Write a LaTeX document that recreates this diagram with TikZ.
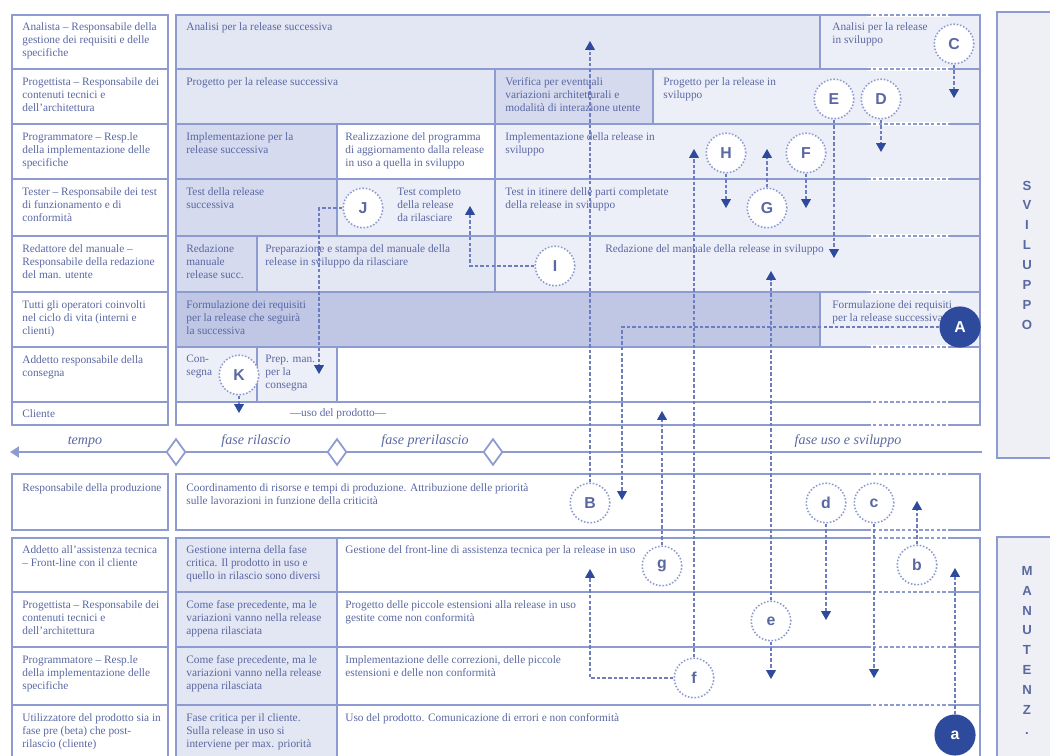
\documentclass[tikz,border=0pt]{standalone}
\usepackage{fontspec}
\setmainfont{Liberation Serif}
\setsansfont{Liberation Sans}
\usetikzlibrary{arrows.meta,shapes.geometric}

\definecolor{rigacol}{HTML}{8E9BD0}
\definecolor{testocol}{HTML}{5A68A2}
\definecolor{lineacol}{HTML}{6E7DBF}
\definecolor{bluscuro}{HTML}{2E4A9C}
\definecolor{fondo0}{HTML}{EDEFF8}
\definecolor{fondo1}{HTML}{E3E6F3}
\definecolor{fondo2}{HTML}{D5DAEE}
\definecolor{fondo3}{HTML}{BFC7E4}
\definecolor{fascia}{HTML}{EEF0F5}

\begin{document}
\begin{tikzpicture}[x=0.02cm, y=-0.02cm,
    cell/.style={draw=rigacol, line width=1.3pt},
    txt/.style={anchor=north west, inner sep=0pt, text=testocol, align=left,
                font=\fontsize{6.45}{7.4}\selectfont},
    fase/.style={anchor=base, inner sep=0pt, text=testocol,
                 font=\fontsize{8}{9}\selectfont\itshape},
    tappa/.style={diamond, draw=rigacol, fill=white, line width=1pt,
                  inner sep=0pt, minimum width=11pt, minimum height=15pt},
    lettera/.style={circle, draw=rigacol, densely dotted, line width=0.9pt, fill=white,
                    minimum size=22.5pt, inner sep=0pt, text=testocol,
                    font=\sffamily\bfseries\fontsize{9}{9}\selectfont},
    piena/.style={lettera, solid, draw=bluscuro, fill=bluscuro, text=white},
    link/.style={draw=lineacol, line width=0.6pt, dash pattern=on 2pt off 1.2pt,
                 -{Triangle[width=5.5pt, length=5pt, color=bluscuro]}},
    banda/.style={draw=rigacol, line width=1.2pt, fill=fascia},
    vert/.style={align=center, text=testocol, inner sep=0pt,
                 font=\sffamily\bfseries\fontsize{7.5}{11.3}\selectfont},
    asse/.style={draw=rigacol, line width=1.6pt, -{Triangle[width=6pt, length=5pt]}}]
  \useasboundingbox (0,0) rectangle (1050,756);

  \draw[banda] (997,12) rectangle (1056,458);
  \draw[banda] (997,537) rectangle (1056,762);
  \node[vert] (svil) at (1027,255) {S\\V\\I\\L\\U\\P\\P\\O};
  \node[vert, anchor=north] (manu) at (1027,566) {M\\A\\N\\U\\T\\E\\N\\Z\\.};

  \draw[cell] (12,15) rectangle (168,69);
  \draw[cell] (12,69) rectangle (168,124);
  \draw[cell] (12,124) rectangle (168,179);
  \draw[cell] (12,179) rectangle (168,236);
  \draw[cell] (12,236) rectangle (168,292);
  \draw[cell] (12,292) rectangle (168,347);
  \draw[cell] (12,347) rectangle (168,402);
  \draw[cell] (12,402) rectangle (168,425);

  \draw[cell, fill=fondo1] (176,15) rectangle (820,69);
  \draw[cell, fill=fondo0] (820,15) rectangle (980,69);
  \draw[cell, fill=fondo1] (176,69) rectangle (495,124);
  \draw[cell, fill=fondo2] (495,69) rectangle (653,124);
  \draw[cell, fill=fondo0] (653,69) rectangle (980,124);
  \draw[cell, fill=fondo2] (176,124) rectangle (337,179);
  \draw[cell, fill=white] (337,124) rectangle (495,179);
  \draw[cell, fill=fondo0] (495,124) rectangle (980,179);
  \draw[cell, fill=fondo2] (176,179) rectangle (337,236);
  \draw[cell, fill=fondo0] (337,179) rectangle (495,236);
  \draw[cell, fill=fondo0] (495,179) rectangle (980,236);
  \draw[cell, fill=fondo2] (176,236) rectangle (257,292);
  \draw[cell, fill=fondo1] (257,236) rectangle (495,292);
  \draw[cell, fill=fondo0] (495,236) rectangle (980,292);
  \draw[cell, fill=fondo3] (176,292) rectangle (820,347);
  \draw[cell, fill=fondo0] (820,292) rectangle (980,347);
  \draw[cell, fill=fondo0] (176,347) rectangle (257,402);
  \draw[cell, fill=fondo0] (257,347) rectangle (337,402);
  \draw[cell] (337,347) rectangle (980,402);
  \draw[cell] (176,402) rectangle (980,425);

  \draw[cell] (12,474) rectangle (168,530);
  \draw[cell] (176,474) rectangle (980,530);
  \draw[cell] (12,538) rectangle (168,592);
  \draw[cell] (12,592) rectangle (168,647);
  \draw[cell] (12,647) rectangle (168,705);
  \draw[cell] (12,705) rectangle (168,764);
  \draw[cell, fill=fondo1] (176,538) rectangle (337,592);
  \draw[cell, fill=fondo1] (176,592) rectangle (337,647);
  \draw[cell, fill=fondo1] (176,647) rectangle (337,705);
  \draw[cell, fill=fondo1] (176,705) rectangle (337,764);
  \draw[cell] (337,538) rectangle (980,592);
  \draw[cell] (337,592) rectangle (980,647);
  \draw[cell] (337,647) rectangle (980,705);
  \draw[cell] (337,705) rectangle (980,764);

  \foreach \yy in {15,69,124,179,236,292,347,402,425,474,530,538,592,647,705}{
    \draw[white, line width=1.8pt] (867,\yy) -- (950,\yy);
    \draw[rigacol, line width=1.3pt, dash pattern=on 2pt off 1.3pt] (867,\yy) -- (950,\yy);
  }

  \coordinate (tfine) at (982,452);
  \coordinate (tinizio) at (10,452);
  \draw[asse] (tfine) -- (tinizio);
  \node[tappa] (d1) at (176,452) {};
  \node[tappa] (d2) at (337,452) {};
  \node[tappa] (d3) at (493,452) {};
  \node[fase] (ftempo) at (85,444) {tempo};
  \node[fase] (frilascio) at (256,444) {fase rilascio};
  \node[fase] (fpre) at (425,444) {fase prerilascio};
  \node[fase] (fuso) at (848,444) {fase uso e sviluppo};

  \node[txt] (ruolo1) at (22,22) {Analista -- Responsabile della\\gestione dei requisiti e delle\\specifiche};
  \node[txt] (ruolo2) at (22,77) {Progettista -- Responsabile dei\\contenuti tecnici e\\dell'architettura};
  \node[txt] (ruolo3) at (22,132) {Programmatore -- Resp.le\\della implementazione delle\\specifiche};
  \node[txt] (ruolo4) at (22,187) {Tester -- Responsabile dei test\\di funzionamento e di\\conformità};
  \node[txt] (ruolo5) at (22,244) {Redattore del manuale --\\Responsabile della redazione\\del man. utente};
  \node[txt] (ruolo6) at (22,300) {Tutti gli operatori coinvolti\\nel ciclo di vita (interni e\\clienti)};
  \node[txt] (ruolo7) at (22,355) {Addetto responsabile della\\consegna};
  \node[txt] (ruolo8) at (22,409) {Cliente};

  \node[txt] (an1) at (186,22) {Analisi per la release successiva};
  \node[txt] (an2) at (832,22) {Analisi per la release\\in sviluppo};
  \node[txt] (pr1) at (186,77) {Progetto per la release successiva};
  \node[txt] (pr2) at (505,77) {Verifica per eventuali\\variazioni architetturali e\\modalità di interazione utente};
  \node[txt] (pr3) at (663,77) {Progetto per la release in\\sviluppo};
  \node[txt] (im1) at (186,132) {Implementazione per la\\release successiva};
  \node[txt] (im2) at (345,132) {Realizzazione del programma\\di aggiornamento dalla release\\in uso a quella in sviluppo};
  \node[txt] (im3) at (505,132) {Implementazione della release in\\sviluppo};
  \node[txt] (te1) at (186,187) {Test della release\\successiva};
  \node[txt] (te2) at (397,187) {Test completo\\della release\\da rilasciare};
  \node[txt] (te3) at (505,187) {Test in itinere delle parti completate\\della release in sviluppo};
  \node[txt] (ma1) at (186,244) {Redazione\\manuale\\release succ.};
  \node[txt] (ma2) at (265,244) {Preparazione e stampa del manuale della\\release in sviluppo da rilasciare};
  \node[txt] (ma3) at (605,244) {Redazione del manuale della release in sviluppo};
  \node[txt] (rq1) at (186,300) {Formulazione dei requisiti\\per la release che seguirà\\la successiva};
  \node[txt] (rq2) at (832,300) {Formulazione dei requisiti\\per la release successiva};
  \node[txt] (co1) at (186,355) {Con-\\segna};
  \node[txt] (co2) at (265,355) {Prep. man.\\per la\\consegna};
  \node[txt, anchor=center] (uso) at (338,414) {---uso del prodotto---};

  \node[txt] (prod1) at (22,483) {Responsabile della produzione};
  \node[txt] (prod2) at (186,483) {Coordinamento di risorse e tempi di produzione. Attribuzione delle priorità\\sulle lavorazioni in funzione della criticità};
  \node[txt] (mr1) at (22,545) {Addetto all'assistenza tecnica\\-- Front-line con il cliente};
  \node[txt] (mr2) at (22,600) {Progettista -- Responsabile dei\\contenuti tecnici e\\dell'architettura};
  \node[txt] (mr3) at (22,655) {Programmatore -- Resp.le\\della implementazione delle\\specifiche};
  \node[txt] (mr4) at (22,713) {Utilizzatore del prodotto sia in\\fase pre (beta) che post-\\rilascio (cliente)};
  \node[txt] (mf1) at (186,545) {Gestione interna della fase\\critica. Il prodotto in uso e\\quello in rilascio sono diversi};
  \node[txt] (mf2) at (186,600) {Come fase precedente, ma le\\variazioni vanno nella release\\appena rilasciata};
  \node[txt] (mf3) at (186,655) {Come fase precedente, ma le\\variazioni vanno nella release\\appena rilasciata};
  \node[txt] (mf4) at (186,713) {Fase critica per il cliente.\\Sulla release in uso si\\interviene per max. priorità};
  \node[txt] (ms1) at (345,545) {Gestione del front-line di assistenza tecnica per la release in uso};
  \node[txt] (ms2) at (345,600) {Progetto delle piccole estensioni alla release in uso\\gestite come non conformità};
  \node[txt] (ms3) at (345,655) {Implementazione delle correzioni, delle piccole\\estensioni e delle non conformità};
  \node[txt] (ms4) at (345,713) {Uso del prodotto. Comunicazione di errori e non conformità};

  \node[lettera] (cC) at (954,44) {C};
  \node[lettera] (cE) at (834,99) {E};
  \node[lettera] (cD) at (881,99) {D};
  \node[lettera] (cH) at (726,153) {H};
  \node[lettera] (cF) at (806,153) {F};
  \node[lettera] (cG) at (767,208) {G};
  \node[lettera] (cJ) at (363,208) {J};
  \node[lettera] (cI) at (555,266) {I};
  \node[lettera] (cK) at (239,375) {K};
  \node[piena] (cA) at (960,327) {A};
  \node[lettera] (cB) at (590,503) {B};
  \node[lettera] (md) at (826,503) {d};
  \node[lettera] (mc) at (874,503) {c};
  \node[lettera] (mg) at (662,566) {g};
  \node[lettera] (mb) at (917,565) {b};
  \node[lettera] (me) at (771,621) {e};
  \node[lettera] (mf) at (694,678) {f};
  \node[piena] (ma) at (955,735) {a};

  \coordinate (pC) at (954,98);
  \coordinate (pD) at (881,152);
  \coordinate (pE) at (834,258);
  \coordinate (pH) at (726,208);
  \coordinate (pF) at (806,208);
  \coordinate (pG) at (767,149);
  \coordinate (pJ) at (319,374);
  \coordinate (pI) at (470,206);
  \coordinate (pK) at (239,413);
  \coordinate (pA) at (622,500);
  \coordinate (pB) at (590,41);
  \coordinate (qd) at (826,620);
  \coordinate (qc) at (874,678);
  \coordinate (qg) at (662,411);
  \coordinate (qb) at (917,501);
  \coordinate (qa) at (955,568);
  \coordinate (qe1) at (771,271);
  \coordinate (qe2) at (771,679);
  \coordinate (qf1) at (694,149);
  \coordinate (qf2) at (590,569);

  \draw[link] (cC) -- (pC);
  \draw[link] (cD) -- (pD);
  \draw[link] (cE) -- (pE);
  \draw[link] (cH) -- (pH);
  \draw[link] (cF) -- (pF);
  \draw[link] (cG) -- (pG);
  \draw[link] (cJ) -| (pJ);
  \draw[link] (cI) -| (pI);
  \draw[link] (cK) -- (pK);
  \draw[link] (cA) -| (pA);
  \draw[link] (cB) -- (pB);
  \draw[link] (md) -- (qd);
  \draw[link] (mc) -- (qc);
  \draw[link] (mg) -- (qg);
  \draw[link] (mb) -- (qb);
  \draw[link] (ma) -- (qa);
  \draw[link] (me) -- (qe1);
  \draw[link] (me) -- (qe2);
  \draw[link] (mf) -- (qf1);
  \draw[link] (mf) -| (qf2);
\end{tikzpicture}
\end{document}
